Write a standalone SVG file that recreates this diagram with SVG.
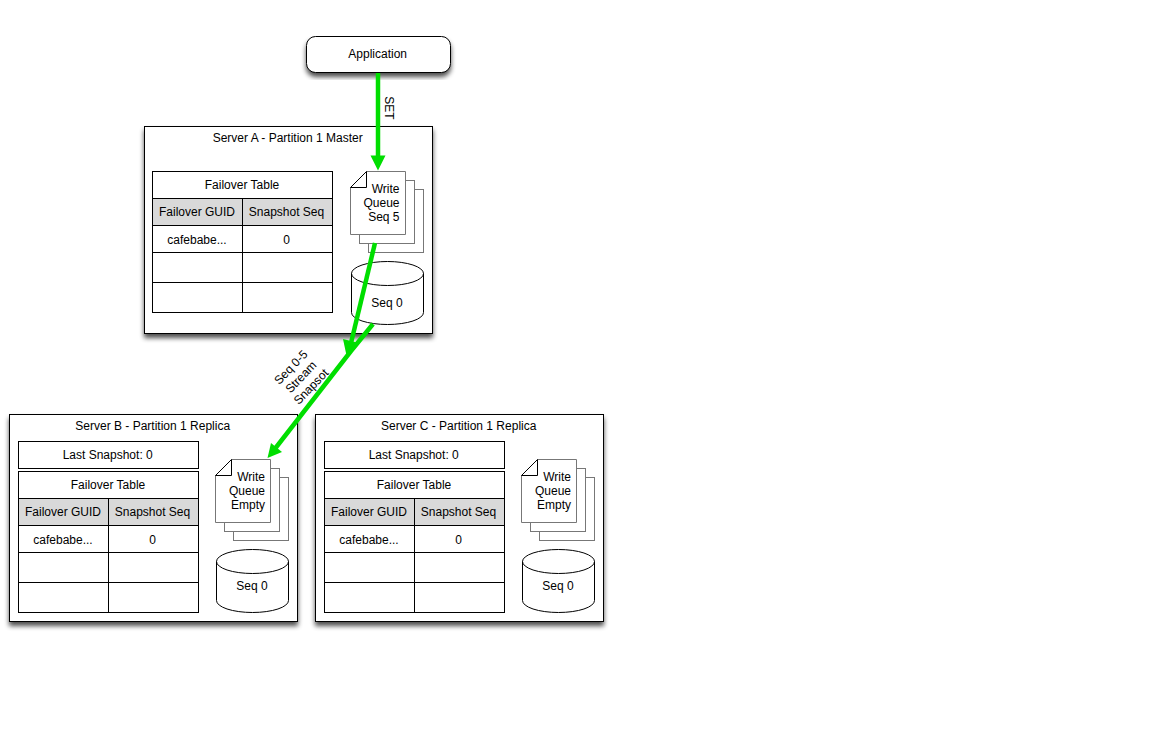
<svg xmlns="http://www.w3.org/2000/svg" width="1152" height="733" viewBox="0 0 1152 733">
<style>
text{font-family:"Liberation Sans",Arial,sans-serif;font-size:12px;fill:#000;text-anchor:middle}
.b{fill:#fff;stroke:#000;stroke-width:1}
.h{fill:#d9d9d9;stroke:#000;stroke-width:1}
.l{fill:none;stroke:#000;stroke-width:1}
.d{fill:#fff;stroke:#777;stroke-width:1}
.c{fill:none;stroke:#00de00;stroke-width:4.500}
.a{fill:#00de00;stroke:none}
.r{text-anchor:end}
</style>
<defs>
<filter id="s" x="-10%" y="-10%" width="120%" height="130%">
<feGaussianBlur in="SourceAlpha" stdDeviation="2.500"/>
<feOffset dx="0" dy="4"/>
<feComponentTransfer><feFuncA type="linear" slope="0.7"/></feComponentTransfer>
<feMerge><feMergeNode/><feMergeNode in="SourceGraphic"/></feMerge>
</filter>
<g id="docs">
<rect class="d" x="18" y="18" width="55" height="63"/>
<rect class="d" x="9" y="9" width="55" height="63"/>
<path class="d" d="M16 0H55V63H0V16Z"/>
<path d="M16 0L0 16H16Z" fill="#fff" stroke="#000" stroke-width="1"/>
</g>
<g id="cyl">
<path class="b" d="M0 12A36 12 0 0 1 72 12V51A36 12 0 0 1 0 51Z"/>
<path class="l" d="M0 12A36 12 0 0 0 72 12"/>
</g>
<g id="tbl">
<rect class="b" x="0" y="0" width="180" height="141"/>
<rect class="h" x="0" y="27" width="180" height="27"/>
<path class="l" d="M0 54H180M0 81H180M0 111H180M90 27V141"/>
<text x="89.500" y="17.500">Failover Table</text>
<text x="44.500" y="44.500">Failover GUID</text>
<text x="134" y="44.500">Snapshot Seq</text>
<text x="44.500" y="72">cafebabe...</text>
<text x="134" y="72">0</text>
</g>
</defs>

<g id="application">
<rect class="b" x="306.500" y="36.500" width="144" height="36" rx="9" filter="url(#s)"/>
<text x="377.700" y="58">Application</text>
</g>

<g id="server-a">
<rect class="b" x="144.500" y="126.500" width="288" height="207" filter="url(#s)"/>
<text x="287.700" y="142">Server A - Partition 1 Master</text>
<g id="server-a-table" transform="translate(152.500 171.500)"><use href="#tbl"/></g>
<g id="server-a-queue" transform="translate(350.500 171.500)"><use href="#docs"/>
<text class="r" x="49" y="21.500">Write</text>
<text class="r" x="49" y="35.500">Queue</text>
<text class="r" x="49" y="49.500">Seq 5</text></g>
<g id="server-a-db" transform="translate(351.500 261.500)"><use href="#cyl"/><text x="35.500" y="45.500">Seq 0</text></g>
</g>

<g id="server-b">
<rect class="b" x="9.500" y="414.500" width="288" height="207" filter="url(#s)"/>
<text x="152.700" y="430">Server B - Partition 1 Replica</text>
<rect class="b" x="18.500" y="441.500" width="180" height="27"/>
<text x="107.700" y="459">Last Snapshot: 0</text>
<g id="server-b-table" transform="translate(18.500 471.500)"><use href="#tbl"/></g>
<g id="server-b-queue" transform="translate(215.500 459.500)"><use href="#docs"/>
<text class="r" x="49.500" y="21.500">Write</text>
<text class="r" x="49.500" y="35.500">Queue</text>
<text class="r" x="49.500" y="49.500">Empty</text></g>
<g id="server-b-db" transform="translate(216.500 549.500)"><use href="#cyl"/><text x="35.500" y="40.500">Seq 0</text></g>
</g>

<g id="server-c">
<rect class="b" x="315.500" y="414.500" width="288" height="207" filter="url(#s)"/>
<text x="458.700" y="430">Server C - Partition 1 Replica</text>
<rect class="b" x="324.500" y="441.500" width="180" height="27"/>
<text x="413.700" y="459">Last Snapshot: 0</text>
<g id="server-c-table" transform="translate(324.500 471.500)"><use href="#tbl"/></g>
<g id="server-c-queue" transform="translate(521.500 459.500)"><use href="#docs"/>
<text class="r" x="49.500" y="21.500">Write</text>
<text class="r" x="49.500" y="35.500">Queue</text>
<text class="r" x="49.500" y="49.500">Empty</text></g>
<g id="server-c-db" transform="translate(522.500 549.500)"><use href="#cyl"/><text x="35.500" y="40.500">Seq 0</text></g>
</g>

<g id="connectors">
<path class="c" d="M378 73V157"/>
<path class="a" d="M378 170.500L370.500 155.500H385.500Z"/>
<path class="c" d="M375 243L351 343"/>
<path class="a" d="M346.500 355.500L343 339L359 343Z"/>
<path class="c" d="M373 324L351 351L274 450"/>
<path class="a" d="M267.500 458L271 443L282 452Z"/>
<text transform="translate(384.500 108) rotate(90)">SET</text>
<g transform="translate(301 377) rotate(-46)" id="stream-label">
<text x="0" y="-10">Seq 0-5</text>
<text x="0" y="4">Stream</text>
<text x="0" y="18">Snapsot</text>
</g>
</g>
</svg>
